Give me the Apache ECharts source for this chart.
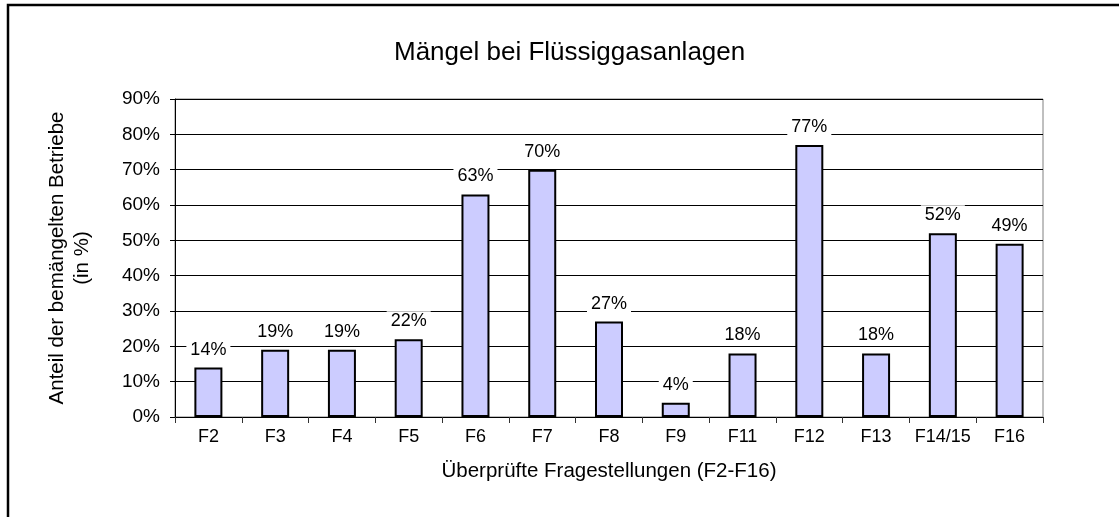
<!DOCTYPE html>
<html>
<head>
<meta charset="utf-8">
<script src="https://cdn.jsdelivr.net/npm/echarts@6/dist/echarts.min.js"></script>
<style>
  html, body { margin: 0; padding: 0; background: #fff; }
  #chart { width: 1119px; height: 517px; }
</style>
</head>
<body>
<div id="chart"></div>
<script>
const categories = ['F2', 'F3', 'F4', 'F5', 'F6', 'F7', 'F8', 'F9', 'F11', 'F12', 'F13', 'F14/15', 'F16'];
const values = [14, 19, 19, 22, 63, 70, 27, 4, 18, 77, 18, 52, 49];
const yTicks = { min: 0, max: 90, interval: 10 };

const font = 'Liberation Sans, Arial, sans-serif';

const chart = echarts.init(document.getElementById('chart'), null, { renderer: 'canvas' });

chart.setOption({
    animation: false,
    backgroundColor: '#fff',
    title: {
        text: 'Mängel bei Flüssiggasanlagen',
        left: 389,
        top: 35,
        textStyle: { fontFamily: font, fontSize: 26, fontWeight: 'normal', color: '#000' }
    },
    graphic: [{
        type: 'rect',
        shape: { x: 8, y: 5, width: 1200, height: 600 },
        style: { fill: null, stroke: '#000', lineWidth: 2.5 },
        silent: true
    }],
    grid: {
        left: 175,
        right: 76,
        top: 99,
        bottom: 100,
        show: true,
        borderColor: '#808080',
        borderWidth: 1,
        containLabel: false
    },
    xAxis: {
        type: 'category',
        data: categories,
        name: 'Überprüfte Fragestellungen (F2-F16)',
        nameLocation: 'middle',
        nameGap: 44,
        nameTextStyle: { fontFamily: font, fontSize: 20.5, color: '#000' },
        axisLine: { lineStyle: { color: '#000', width: 1 } },
        axisTick: { show: true, length: 6, interval: 0, alignWithLabel: false, lineStyle: { color: '#333' } },
        axisLabel: { interval: 0, fontFamily: font, fontSize: 18, color: '#000', margin: 11 },
        splitLine: { show: false }
    },
    yAxis: {
        type: 'value',
        min: yTicks.min,
        max: yTicks.max,
        interval: yTicks.interval,
        name: 'Anteil der bemängelten Betriebe\n(in %)',
        nameLocation: 'middle',
        nameRotate: 90,
        nameGap: 80,
        nameTextStyle: { fontFamily: font, fontSize: 20.5, color: '#000', lineHeight: 25 },
        axisLine: { show: true, lineStyle: { color: '#000', width: 1 } },
        axisTick: { show: true, length: 5, lineStyle: { color: '#000' } },
        axisLabel: { fontFamily: font, fontSize: 19, color: '#000', margin: 15, formatter: '{value}%' },
        splitLine: { show: true, lineStyle: { color: '#000', width: 1 } }
    },
    series: [{
        type: 'bar',
        data: values,
        barWidth: 28,
        itemStyle: { color: '#ccccff', borderColor: '#000', borderWidth: 2 },
        label: {
            show: true,
            position: 'top',
            distance: 8,
            formatter: '{c}%',
            fontFamily: font,
            fontSize: 18,
            color: '#000',
            backgroundColor: '#fff',
            padding: [1, 4]
        }
    }]
});
</script>
</body>
</html>
